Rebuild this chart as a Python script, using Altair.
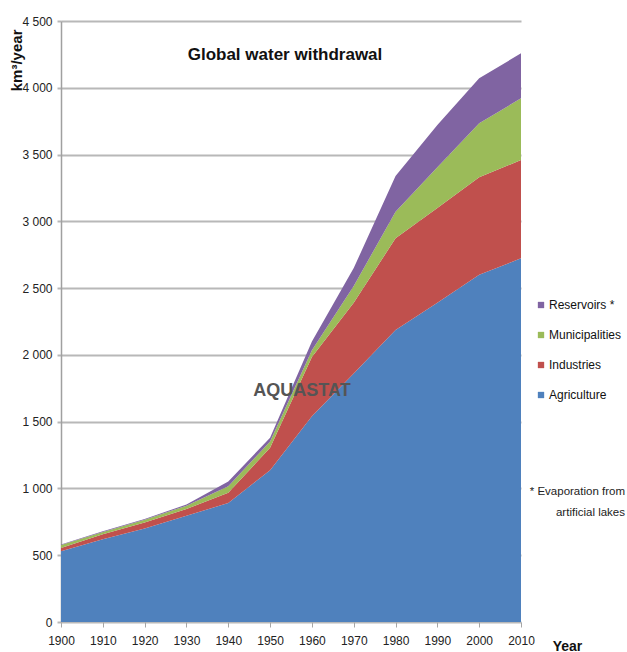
import altair as alt
import pandas as pd

# Global water withdrawal by sector, km3/year
years = [1900, 1910, 1920, 1930, 1940, 1950, 1960, 1970, 1980, 1990, 2000, 2010]
agriculture = [530, 619, 700, 795, 891, 1136, 1540, 1860, 2186, 2390, 2600, 2723]
industries = [25, 38, 45, 51, 76, 169, 445, 530, 687, 710, 730, 736]
municipalities = [21, 17, 20, 25, 50, 46, 50, 125, 199, 305, 404, 462]
reservoirs = [4, 5, 6, 9, 35, 29, 65, 135, 268, 316, 337, 337]

sectors = ["Agriculture", "Industries", "Municipalities", "Reservoirs *"]
series = [agriculture, industries, municipalities, reservoirs]
legend_order = ["Reservoirs *", "Municipalities", "Industries", "Agriculture"]
palette = ["#8064A2", "#9BBB59", "#C0504D", "#4F81BD"]

rows = []
for rank, (name, vals) in enumerate(zip(sectors, series)):
    for y, v in zip(years, vals):
        rows.append({"Year": y, "Sector": name, "Withdrawal": v, "rank": rank})
df = pd.DataFrame(rows)

FONT = "Liberation Sans Narrow, Liberation Sans, Arial"

areas = alt.Chart(df).mark_area(opacity=1).encode(
    x=alt.X(
        "Year:Q",
        scale=alt.Scale(domain=[1900, 2010], nice=False, zero=False),
        axis=alt.Axis(
            values=years,
            format="d",
            grid=False,
            domain=False,
            ticks=True,
            tickSize=5,
            tickColor="#a6a6a6",
            labelFlush=False,
            labelOverlap=False,
            labelFontSize=12,
            labelColor="#222222",
            labelFont=FONT,
            labelPadding=8,
            title="Year",
            titleFont=FONT,
            titleFontSize=14,
            titleFontWeight="bold",
            titleColor="#111111",
            titleX=506,
            titleY=24,
            titleAlign="center",
            titleBaseline="middle",
        ),
    ),
    y=alt.Y(
        "Withdrawal:Q",
        stack="zero",
        scale=alt.Scale(domain=[0, 4500], nice=False),
        axis=alt.Axis(
            values=list(range(0, 4501, 500)),
            labelExpr="replace(format(datum.value, ','), ',', ' ')",
            grid=True,
            gridColor="#b8b8b8",
            gridWidth=2,
            domain=True,
            domainColor="#a0a0a0",
            domainWidth=1.5,
            ticks=True,
            tickSize=4,
            tickColor="#b8b8b8",
            tickWidth=2,
            labelFontSize=12,
            labelColor="#222222",
            labelFont=FONT,
            labelPadding=5,
            title="km³/year",
            titleFont=FONT,
            titleFontSize=15,
            titleFontWeight="bold",
            titleColor="#111111",
            titleAngle=270,
            titleX=-45,
            titleY=8,
            titleAlign="right",
            titleBaseline="middle",
        ),
    ),
    color=alt.Color(
        "Sector:N",
        scale=alt.Scale(domain=legend_order, range=palette),
        legend=alt.Legend(
            orient="none",
            legendX=474,
            legendY=278,
            title=None,
            symbolType="square",
            symbolSize=40,
            symbolStrokeWidth=0,
            labelFont=FONT,
            labelFontSize=12,
            labelColor="#111111",
            labelLimit=200,
            rowPadding=18,
            labelOffset=2,
        ),
    ),
    order=alt.Order("rank:Q", sort="ascending"),
)

title_text = alt.Chart(pd.DataFrame({"t": ["Global water withdrawal"]})).mark_text(
    font=FONT, fontSize=17, fontWeight="bold", color="#111111", align="center", baseline="middle"
).encode(text="t:N", x=alt.value(224), y=alt.value(34))

watermark = alt.Chart(pd.DataFrame({"t": ["AQUASTAT"]})).mark_text(
    font=FONT, fontSize=18, fontWeight="bold", color="#555555", align="center", baseline="middle",
).encode(text="t:N", x=alt.value(241), y=alt.value(370))

note = alt.Chart(pd.DataFrame({"t": ["* Evaporation from", "artificial lakes"], "dy": [471, 492]})).mark_text(
    font=FONT, fontSize=11.5, color="#222222", align="right", baseline="middle"
).encode(text="t:N", x=alt.value(564), y=alt.Y("dy:Q", scale=None))

chart = alt.layer(areas, title_text, watermark, note).properties(
    width=460,
    height=601,
    padding={"left": 61, "top": 21, "right": 106, "bottom": 30},
    autosize=alt.AutoSizeParams(type="none"),
    background="white",
).configure_view(stroke=None)

chart.save("out.html", embed_options={"renderer": "svg", "actions": False})
